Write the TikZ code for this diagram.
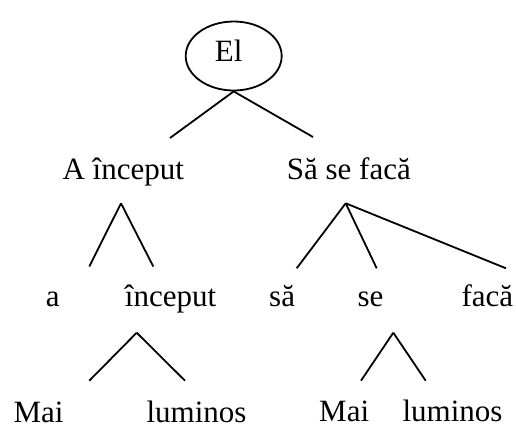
\documentclass[tikz,border=0pt]{standalone}
\usepackage{fontspec}
\setmainfont{Liberation Serif}
\usetikzlibrary{shapes.geometric}

\begin{document}
\begin{tikzpicture}[x=0.5pt,y=-0.5pt,line width=0.9pt,
    word/.style={inner sep=0pt,anchor=base west,font=\fontsize{15.5}{18}\selectfont}]
  \useasboundingbox (0,0) rectangle (516,425);

  % Root
  \node[draw,ellipse,minimum width=48pt,minimum height=34.5pt] (root) at (233.7,56) {};
  \node[word] (el) at (214,61) {El};

  % First level
  \node[word] (ainceput) at (61.7,179.3) {A început};
  \node[word] (sasefaca) at (286,179.3) {Să se facă};
  \coordinate (r1) at (170,138);
  \coordinate (r2) at (313,137);
  \foreach \e in {r1,r2}
    \draw (root.south) -- (\e);

  % Second level
  \node[word] (a) at (45,306.5) {a};
  \node[word] (inceput) at (124,306.5) {început};
  \node[word] (sa) at (268.3,306.5) {să};
  \node[word] (se) at (356.7,306.5) {se};
  \node[word] (faca) at (460.7,306.5) {facă};

  \coordinate (a0) at (121,203.3);
  \coordinate (a1) at (89.3,266.5);
  \coordinate (a2) at (153.3,266.5);
  \foreach \e in {a1,a2}
    \draw (a0) -- (\e);

  \coordinate (s0) at (345.7,203.3);
  \coordinate (s1) at (296.7,268.3);
  \coordinate (s2) at (376.7,268.3);
  \coordinate (s3) at (506,268.3);
  \foreach \e in {s1,s2,s3}
    \draw (s0) -- (\e);

  % Third level
  \node[word] (mai) at (12.7,422.3) {Mai};
  \node[word] (luminos) at (145.7,422.3) {luminos};
  \node[word] (maii) at (318.3,421.7) {Mai};
  \node[word] (luminosi) at (401.7,421.7) {luminos};

  \coordinate (b0) at (136.7,332.7);
  \coordinate (b1) at (89.3,380.7);
  \coordinate (b2) at (185,380.7);
  \foreach \e in {b1,b2}
    \draw (b0) -- (\e);

  \coordinate (c0) at (393.3,332.7);
  \coordinate (c1) at (361,380.7);
  \coordinate (c2) at (425.7,380.7);
  \foreach \e in {c1,c2}
    \draw (c0) -- (\e);
\end{tikzpicture}
\end{document}
